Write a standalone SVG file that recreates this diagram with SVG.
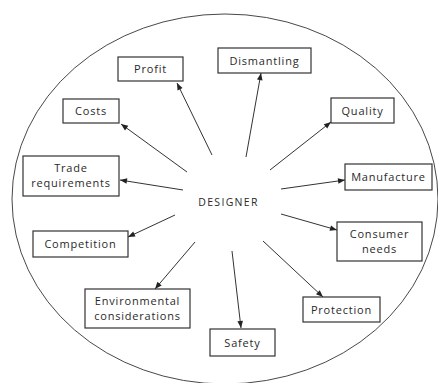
<svg xmlns="http://www.w3.org/2000/svg" width="438" height="383" viewBox="0 0 438 383">
  <defs>
    <marker id="arrow" viewBox="0 0 10 10" refX="10" refY="5" markerWidth="9" markerHeight="7" markerUnits="userSpaceOnUse" orient="auto">
      <path d="M0,1 L10,5 L0,9 z" fill="#222"/>
    </marker>
    <style>
      .box rect { fill: #fff; stroke: #333; stroke-width: 1.2; }
      .box text { font-family: "Open Sans", "Noto Sans", sans-serif; font-size: 11px; letter-spacing: 0.8px; fill: #2a2a2a; text-anchor: middle; }
      .conn line { stroke: #333; stroke-width: 1; marker-end: url(#arrow); }
      .center { font-family: "Open Sans", "Noto Sans", sans-serif; font-size: 10.5px; fill: #2a2a2a; text-anchor: middle; letter-spacing: 1.3px; }
    </style>
  </defs>
  <rect width="438" height="383" fill="#fff"/>

  <!-- outer boundary -->
  <ellipse cx="225" cy="199" rx="213" ry="185" fill="none" stroke="#333" stroke-width="0.9"/>

  <!-- hub label -->
  <g id="designer">
    <text class="center" x="228.5" y="206">DESIGNER</text>
  </g>

  <!-- connectors radiating from the designer -->
  <g class="conn" id="connectors">
    <line x1="212" y1="155" x2="177" y2="83"/>
    <line x1="187" y1="172" x2="121" y2="124"/>
    <line x1="183" y1="190" x2="120" y2="180"/>
    <line x1="175" y1="215" x2="128" y2="237"/>
    <line x1="195" y1="242" x2="155" y2="289"/>
    <line x1="232" y1="251" x2="241" y2="328"/>
    <line x1="263" y1="241" x2="323" y2="297"/>
    <line x1="281" y1="214" x2="337" y2="230"/>
    <line x1="281" y1="189" x2="345" y2="180"/>
    <line x1="270" y1="170" x2="331" y2="122"/>
    <line x1="246" y1="157" x2="261" y2="73"/>
  </g>

  <g class="box" id="profit">
    <rect x="118" y="57" width="65" height="24"/>
    <text x="150.5" y="73">Profit</text>
  </g>
  <g class="box" id="costs">
    <rect x="63" y="99" width="56" height="24"/>
    <text x="91" y="115">Costs</text>
  </g>
  <g class="box" id="trade">
    <rect x="23" y="156" width="96" height="40"/>
    <text x="71" y="172">Trade</text>
    <text x="71" y="187">requirements</text>
  </g>
  <g class="box" id="dismantling">
    <rect x="218" y="48" width="93" height="25"/>
    <text x="264.5" y="64.5">Dismantling</text>
  </g>
  <g class="box" id="quality">
    <rect x="331" y="98" width="63" height="25"/>
    <text x="362.5" y="114.5">Quality</text>
  </g>
  <g class="box" id="manufacture">
    <rect x="345" y="164" width="87" height="26"/>
    <text x="388.5" y="181">Manufacture</text>
  </g>
  <g class="box" id="competition">
    <rect x="33" y="231" width="95" height="26"/>
    <text x="80.5" y="248">Competition</text>
  </g>
  <g class="box" id="environmental">
    <rect x="85" y="289" width="105" height="39"/>
    <text x="137.5" y="304.5">Environmental</text>
    <text x="137.5" y="319.5">considerations</text>
  </g>
  <g class="box" id="safety">
    <rect x="210" y="329" width="65" height="27"/>
    <text x="242.5" y="346.5">Safety</text>
  </g>
  <g class="box" id="consumer">
    <rect x="337" y="222" width="85" height="39"/>
    <text x="379.5" y="237.5">Consumer</text>
    <text x="379.5" y="252.5">needs</text>
  </g>
  <g class="box" id="protection">
    <rect x="303" y="297" width="77" height="25"/>
    <text x="341.5" y="314">Protection</text>
  </g>
</svg>
